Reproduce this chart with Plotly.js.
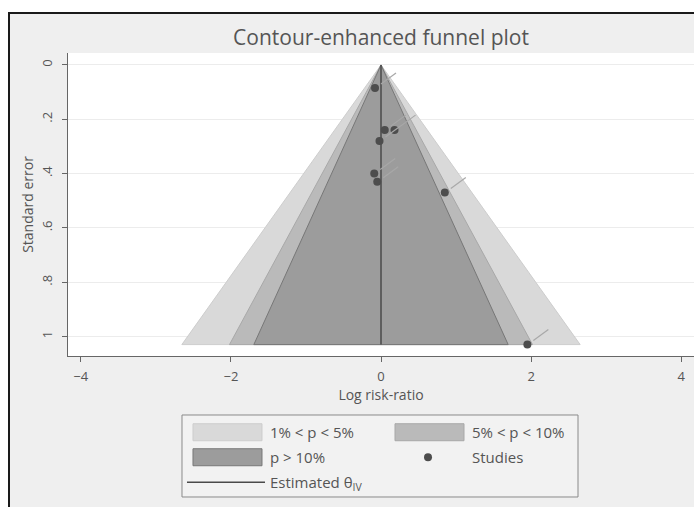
<!DOCTYPE html>
<html><head><meta charset="utf-8">
<script src="https://cdn.plot.ly/plotly-3.0.1.min.js"></script>
<style>
html,body{margin:0;padding:0;background:#fff;overflow:hidden;width:694px;height:507px}
#frame{position:absolute;left:8px;top:12px;width:700px;height:500px;border:2px solid #1a1a1a;background:#efefef}
#chart{width:700px;height:500px}
</style></head><body>
<div id="frame"><div id="chart"></div></div>
<script>
// ---- data ----
const studyLogRR = [-0.08, 0.05, 0.18, -0.02, -0.09, -0.05, 0.85, 1.95];
const studySE    = [0.085, 0.24, 0.24, 0.28, 0.40, 0.43, 0.47, 1.03];
const thetaIV = 0;
const contourLabels = ['1% < p < 5%', '5% < p < 10%', 'p > 10%'];
const contourZ = [2.576, 1.960, 1.645];
const xTickVals = [-4, -2, 0, 2, 4];
const yTickVals = [0, 0.2, 0.4, 0.6, 0.8, 1];
const yTickText = ['0', '.2', '.4', '.6', '.8', '1'];

// ---- styles ----
const fillColors = ['#d9d9d9', '#bababa', '#9c9c9c'];
const edgeColors = ['#cdcdcd', '#a8a8a8', '#777777'];
const contourLegend = ['legend', 'legend2', 'legend'];

const seMax = Math.max(...studySE);
const traces = [];
contourZ.forEach((z, i) => {
  traces.push({
    type: 'scatter', mode: 'lines', name: contourLabels[i],
    x: [thetaIV, thetaIV - z * seMax, thetaIV + z * seMax, thetaIV],
    y: [0, seMax, seMax, 0],
    fill: 'toself', fillcolor: fillColors[i],
    line: {color: edgeColors[i], width: 1},
    legend: contourLegend[i], legendgroup: 'g' + i,
    hoverinfo: 'skip'
  });
});
traces.push({
  type: 'scatter', mode: 'lines', name: 'Estimated θ<sub>IV</sub>',
  x: [thetaIV, thetaIV], y: [0, seMax],
  line: {color: '#4a4a4a', width: 1.5},
  legend: 'legend', legendgroup: 'g4', hoverinfo: 'skip'
});
traces.push({
  type: 'scatter', mode: 'markers', name: 'Studies',
  x: studyLogRR, y: studySE,
  marker: {color: '#4d4d4d', size: 8},
  legend: 'legend2', legendgroup: 'g3', hoverinfo: 'skip'
});

// short marker-label strokes next to each study (pixel-sized, anchored on the study)
const labelStrokes = studyLogRR.map((v, i) => ({
  type: 'line', xref: 'x', yref: 'y', xsizemode: 'pixel', ysizemode: 'pixel',
  xanchor: v, yanchor: studySE[i], x0: 6, y0: 4, x1: 21, y1: 15,
  line: {color: '#a8a8a8', width: 1.2}
}));
// legend frame
const legendFrame = {
  type: 'rect', xref: 'paper', yref: 'paper', x0: 0.1821, x1: 0.8147, y0: -0.1947, y1: -0.4653,
  line: {color: '#8a8a8a', width: 1}, fillcolor: '#f2f2f2', layer: 'below'
};

const txt = '#555555';
const legendBase = {
  orientation: 'v', yanchor: 'top', xanchor: 'left', y: -0.198,
  bgcolor: 'rgba(0,0,0,0)', borderwidth: 0, itemwidth: 78,
  font: {size: 15, color: txt}, traceorder: 'grouped', tracegroupgap: 2.5
};
const layout = {
  width: 700, height: 500,
  paper_bgcolor: '#efefef', plot_bgcolor: '#ffffff',
  margin: {l: 58, r: 16, t: 39, b: 158, pad: 0},
  font: {family: 'Open Sans, sans-serif', color: txt, size: 13},
  title: {text: 'Contour-enhanced funnel plot', x: 0.5, xref: 'paper', y: 0.952, yref: 'container', yanchor: 'middle',
          font: {size: 21, color: txt}},
  xaxis: {
    range: [-4.17, 4.17], tickvals: xTickVals, ticks: 'outside', ticklen: 5, tickcolor: '#666',
    showline: true, linecolor: '#666', linewidth: 1, showgrid: false, zeroline: false,
    tickfont: {size: 13, color: txt}, ticklabelstandoff: 3,
    title: {text: 'Log risk-ratio', font: {size: 14, color: txt}, standoff: 0}
  },
  yaxis: {
    range: [1.072, -0.044], tickvals: yTickVals, ticktext: yTickText, tickangle: -90,
    ticks: 'outside', ticklen: 5, tickcolor: '#666', ticklabelstandoff: 5,
    showline: true, linecolor: '#666', linewidth: 1, showgrid: true, gridcolor: '#ececec', zeroline: false,
    tickfont: {size: 13, color: txt},
    title: {text: 'Standard error', font: {size: 14, color: txt}, standoff: 0}
  },
  showlegend: true,
  legend: Object.assign({}, legendBase, {x: 0.1821}),
  legend2: Object.assign({}, legendBase, {x: 0.5048}),
  shapes: [legendFrame].concat(labelStrokes)
};
Plotly.newPlot('chart', traces, layout, {displayModeBar: false, staticPlot: true}).then(gd => {
  // taller box swatches for the contour entries, like the reference legend
  gd.querySelectorAll('g.traces').forEach(g => {
    const f = g.querySelector('.legendfill path');
    if (f && f.getAttribute('d')) {
      const dd = g.__data__;
      const tr = dd && dd[0] && dd[0].trace ? dd[0].trace : (dd && dd[0] && dd[0][0] ? dd[0][0].trace : null);
      f.setAttribute('d', 'M11,-8.5h69v17h-69z');
      if (tr) { f.style.stroke = tr.line.color; f.style.strokeWidth = '1px'; }
      g.querySelectorAll('.legendlines path').forEach(p => p.style.display = 'none');
    }
  });
});
</script></body></html>
